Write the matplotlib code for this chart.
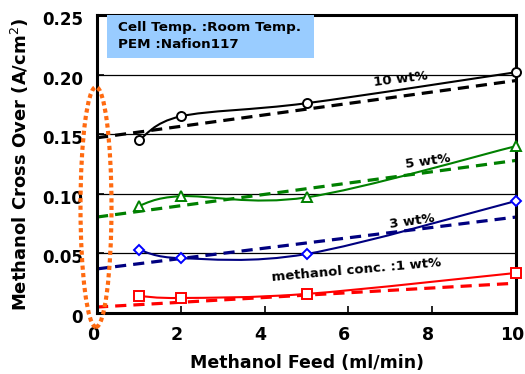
import numpy as np
import matplotlib
matplotlib.use("Agg")
import matplotlib.pyplot as plt
import matplotlib.transforms as mtransforms
from matplotlib.path import Path
from matplotlib.patches import PathPatch, Ellipse, Rectangle

# ---- data ----
feed = [1, 2, 5, 10]
c10 = [0.145, 0.165, 0.176, 0.202]
c5 = [0.090, 0.098, 0.097, 0.140]
c3 = [0.053, 0.046, 0.0495, 0.094]
c1 = [0.0143, 0.0126, 0.016, 0.0336]
fit_x = [0, 10]
fit10 = [0.147, 0.195]
fit5 = [0.0805, 0.128]
fit3 = [0.037, 0.0805]
fit1 = [0.005, 0.025]
xticks = [0, 2, 4, 6, 8, 10]
yticks = [0, 0.05, 0.10, 0.15, 0.20, 0.25]
yticklabels = ["0", "0.05", "0.10", "0.15", "0.20", "0.25"]

plt.rcParams['font.family'] = ['DejaVu Sans']

fig = plt.figure(figsize=(5.25, 3.74), dpi=100)
W, H = 525, 374
ax = fig.add_axes([97 / W, 1 - 313 / H, (516 - 97) / W, (313 - 15) / H])
ax.set_xlim(0, 10)
ax.set_ylim(0, 0.25)


def smooth_path(xs, ys, t=1 / 6):
    """Excel-like smoothed line through points using Bezier segments."""
    pts = list(zip(xs, ys))
    n = len(pts)
    verts = [pts[0]]
    codes = [Path.MOVETO]
    for i in range(n - 1):
        p0 = pts[i - 1] if i > 0 else pts[i]
        p1 = pts[i]
        p2 = pts[i + 1]
        p3 = pts[i + 2] if i + 2 < n else pts[i + 1]
        c1p = (p1[0] + (p2[0] - p0[0]) * t, p1[1] + (p2[1] - p0[1]) * t)
        c2p = (p2[0] - (p3[0] - p1[0]) * t, p2[1] - (p3[1] - p1[1]) * t)
        verts += [c1p, c2p, p2]
        codes += [Path.CURVE4] * 3
    return Path(verts, codes)


series = [
    (c10, fit10, 'black', 'black', 'o'),
    (c5, fit5, '#008000', '#008000', '^'),
    (c3, fit3, '#000080', '#0000FF', 'D'),
    (c1, fit1, '#FF0000', '#FF0000', 's'),
]

for yy in [0.05, 0.10, 0.15, 0.20]:
    ax.axhline(yy, color='black', lw=0.9, zorder=1)

for vals, fit, lc, mc, mk in series:
    ax.plot(fit_x, fit, color=lc, lw=2.3, dashes=(3.5, 2.2), zorder=2, clip_on=False)
    ax.add_patch(PathPatch(smooth_path(feed, vals), facecolor='none', edgecolor=lc,
                           lw=1.5, zorder=3))
    ms = 5.5 if mk == 'D' else 6.5
    ax.plot(feed, vals, linestyle='none', marker=mk, ms=ms, mfc='white', mec=mc,
            mew=1.4, zorder=4, clip_on=False)

for s in ax.spines.values():
    s.set_linewidth(2.2)
ax.set_xticks(xticks)
ax.set_xticklabels([str(v) for v in xticks])
ax.set_yticks(yticks)
ax.set_yticklabels(yticklabels)
ax.tick_params(axis='x', direction='in', length=5, width=1.2, pad=9.5,
               labelsize=12.5)
ax.tick_params(axis='y', direction='in', length=5, width=1.2, pad=10,
               labelsize=12)
for lab in ax.get_xticklabels():
    lab.set_fontweight('bold')
    lab.set_transform(lab.get_transform() +
                      mtransforms.ScaledTranslation(-4 / 100, 0, fig.dpi_scale_trans))
for lab in ax.get_yticklabels():
    lab.set_fontweight('bold')
    lab.set_transform(lab.get_transform() +
                      mtransforms.ScaledTranslation(0, -3 / 100, fig.dpi_scale_trans))
ax.set_xlabel('Methanol Feed (ml/min)', fontsize=12.5, fontweight='bold', labelpad=7)
ax.set_ylabel('Methanol Cross Over (A/cm$^2$)', fontsize=13, fontweight='bold',
              labelpad=8)

# info box
ax.add_patch(Rectangle((107 / W, 1 - 58 / H), (314 - 107) / W, (58 - 14) / H,
                       transform=fig.transFigure, facecolor='#99CCFF',
                       edgecolor='none', zorder=5))
fig.text(118 / W, 1 - 28 / H, 'Cell Temp. :Room Temp.', fontsize=9.7,
         fontweight='bold', va='center', zorder=6)
fig.text(118 / W, 1 - 44 / H, 'PEM :Nafion117', fontsize=9.7,
         fontweight='bold', va='center', zorder=6)

# curve labels
ax.text(7.25, 0.196, '10 wt%', fontsize=9.5, fontweight='bold', rotation=7,
        ha='center', va='center')
ax.text(7.9, 0.127, '5 wt%', fontsize=9.5, fontweight='bold', rotation=8,
        ha='center', va='center')
ax.text(7.52, 0.0765, '3 wt%', fontsize=9.5, fontweight='bold', rotation=8,
        ha='center', va='center')
ax.text(6.2, 0.036, 'methanol conc. :1 wt%', fontsize=9.5, fontweight='bold',
        rotation=5, ha='center', va='center')

# orange dotted ellipse
fig.add_artist(Ellipse((96 / W, 1 - 207 / H), 31 / W, 240 / H,
                       transform=fig.transFigure, facecolor='none',
                       edgecolor='#FF6A10', lw=3.0, linestyle=(0, (1, 0.8)),
                       zorder=10, clip_on=False))

fig.savefig('out.png', dpi=100)
